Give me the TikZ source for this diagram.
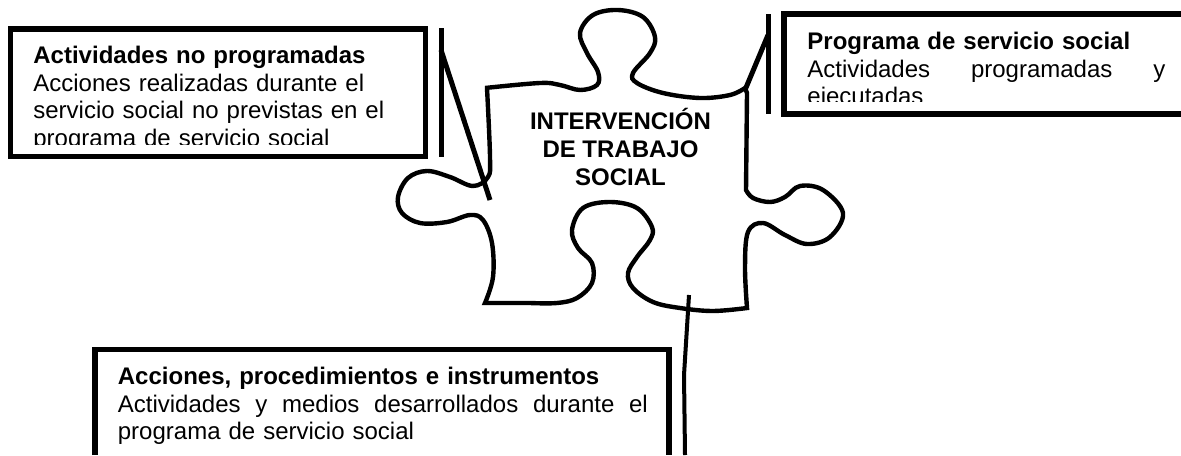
\documentclass[tikz,border=0pt]{standalone}
\usepackage{fontspec}
\setmainfont{Liberation Sans}
\usetikzlibrary{math}

\tikzset{
    boxline/.style={black, line width=2.75pt, line join=miter},
    barline/.style={black, line width=2.5pt},
    puzzleline/.style={black, line width=2.2pt, line join=miter, smooth, tension=0.6},
    boxtext/.style={inner sep=0pt, anchor=north west, align=left, font=\fontsize{12}{13.8}\selectfont},
    centertext/.style={inner sep=0pt, align=center, font=\fontsize{12}{14}\selectfont\bfseries},
}

\begin{document}
\begin{tikzpicture}[x=0.5pt,y=-0.5pt]

\useasboundingbox (0,0) rectangle (1181,455);

% Position settings
\tikzmath{
    \LeftBarX = 441;
    \RightBarX = 768;
    \LowBarX = 685;
}

\coordinate (BL0) at (\LeftBarX, 28);
\coordinate (BL1) at (\LeftBarX, 157);
\coordinate (DL0) at (\LeftBarX, 50);
\coordinate (DL1) at (490, 200);

\coordinate (BR0) at (\RightBarX, 14);
\coordinate (BR1) at (\RightBarX, 114);
\coordinate (DR0) at (\RightBarX, 35);
\coordinate (DR1) at (745, 90);

\coordinate (DB0) at (689, 295);
\coordinate (BB0) at (684, 375);
\coordinate (BB1) at (\LowBarX, 455);

% Puzzle piece
\draw [puzzleline]
    plot coordinates {(485,88) (540,83) (560,85) (580,90) (597,85) (598,72) (587,53) (580,33)
        (593,15) (618,10) (643,17) (655,37) (650,53) (633,73) (637,83) (663,93) (700,98) (730,95) (745,88)}
    -- (747,93) -- (746,190)
    -- plot coordinates {(746,190) (753,198) (770,202) (785,197) (800,186) (823,190) (843,213)
        (830,237) (807,244) (785,235) (763,223) (748,232) (745,267) (747,308)}
    -- plot coordinates {(747,308) (713,311) (680,308) (653,302) (633,288) (628,273) (637,257)
        (650,240) (652,227) (637,208) (610,202) (583,208) (572,230) (578,248) (592,263)
        (592,283) (577,298) (557,303) (530,303)}
    -- (485,303)
    -- plot coordinates {(485,303) (493,277) (492,243) (483,220) (470,215) (447,222) (420,223)
        (402,213) (398,197) (408,178) (427,171) (450,177) (473,186) (488,177) (490,157) (487,88)}
    -- cycle;

\node [centertext] (Center) at (620.5, 147) {INTERVENCIÓN\\DE TRABAJO\\SOCIAL};

% Left box
\begin{scope}
    \clip (13,32) rectangle (423,144);
    \node [boxtext, text width=190pt] (LeftText) at (33,46)
        {\textbf{Actividades no programadas}\\Acciones realizadas durante el\\servicio social no previstas en el\\programa de servicio social};
\end{scope}
\draw [boxline] (10.5,29) rectangle (425.5,156.5);

% Right box
\begin{scope}
    \clip (787,17) rectangle (1181,101);
    \node [boxtext, text width=179pt] (RightText) at (807,32)
        {\textbf{Programa de servicio social}\\\makebox[179pt]{Actividades\hfill programadas\hfill y}\\ejecutadas};
\end{scope}
\draw [boxline] (1181,14) -- (784,14) -- (784,114) -- (1181,114);

% Lower box
\node [boxtext, text width=265pt] (LowText) at (117.5,367)
    {\textbf{Acciones, procedimientos e instrumentos}\\\makebox[265pt]{Actividades\hfill y\hfill medios\hfill desarrollados\hfill durante\hfill el}\\programa de servicio social};
\draw [boxline] (95,455) -- (95,349.5) -- (669,349.5) -- (669,455);

% Draws bars
\draw [barline] (BL0) -- (BL1);
\draw [barline] (DL0) -- (DL1);
\draw [barline] (BR0) -- (BR1);
\draw [barline] (DR0) -- (DR1);
\draw [barline, line width=2pt] (DB0) -- (BB0) -- (BB1);

\end{tikzpicture}
\end{document}
